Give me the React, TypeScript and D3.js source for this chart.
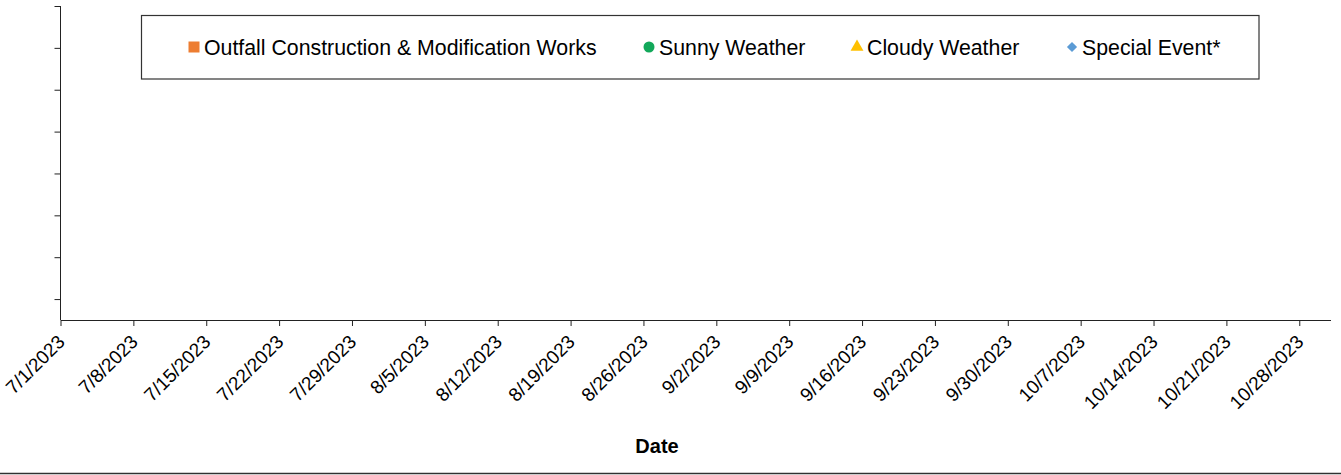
import React, { useEffect, useRef } from 'react';
import * as d3 from 'd3';

// Legend series (chart has no plotted points in this period)
const seriesNames = ['Outfall Construction & Modification Works', 'Sunny Weather', 'Cloudy Weather', 'Special Event*'];
const seriesColors = ['#ED7D31', '#12A85A', '#FFC000', '#5B9BD5'];
const seriesShapes = ['square', 'circle', 'triangle', 'diamond'];

// Observations per series: { date, value }
const outfallPoints: { date: string; value: number }[] = [];
const sunnyPoints: { date: string; value: number }[] = [];
const cloudyPoints: { date: string; value: number }[] = [];
const specialPoints: { date: string; value: number }[] = [];

const xStart = '2023-07-01';
const xEnd = '2023-10-31';
const yTicks = [0, 1, 2, 3, 4, 5, 6, 7];
const yMin = -0.5;
const yMax = 7;
const xTitle = 'Date';

const width = 1341;
const height = 475;
const FONT = '"Liberation Sans", Arial, sans-serif';

const symbolTypes: Record<string, d3.SymbolType> = {
  square: d3.symbolSquare,
  circle: d3.symbolCircle,
  triangle: d3.symbolTriangle,
  diamond: d3.symbolSquare,
};
const symbolSizes: Record<string, number> = { square: 121, circle: 95, triangle: 72, diamond: 52 };
const symbolRotate: Record<string, number> = { square: 0, circle: 0, triangle: 0, diamond: 45 };

export default function App() {
  const ref = useRef<SVGSVGElement>(null);

  useEffect(() => {
    const svg = d3.select(ref.current);
    svg.selectAll('*').remove();

    const parse = d3.utcParse('%Y-%m-%d');
    const x = d3.scaleUtc()
      .domain([parse(xStart)!, parse(xEnd)!])
      .range([60.5, 1330.5]);
    const y = d3.scaleLinear().domain([yMin, yMax]).range([320, 6]);

    // Bottom axis - weekly ticks (7/1/2023 is a Saturday)
    const xTicks = d3.utcSaturday.range(parse(xStart)!, parse(xEnd)!);
    const gx = svg.append('g')
      .attr('transform', `translate(0, 320)`)
      .call(
        d3.axisBottom(x)
          .tickValues(xTicks)
          .tickSize(6)
          .tickSizeOuter(0)
          .tickFormat(d => d3.utcFormat('%-m/%-d/%Y')(d as Date))
      );
    gx.select('.domain').attr('stroke', '#222');
    gx.selectAll('.tick line').attr('stroke', '#222');
    gx.selectAll('.tick text')
      .attr('y', 0)
      .attr('dy', 0)
      .attr('transform', 'translate(5, 23) rotate(-45)')
      .attr('text-anchor', 'end')
      .attr('font-family', FONT)
      .attr('font-size', 19)
      .attr('fill', '#000');

    // Left axis - no labels
    const gy = svg.append('g')
      .attr('transform', `translate(60.5, 0)`)
      .call(d3.axisLeft(y).tickValues(yTicks).tickSize(6).tickSizeOuter(0).tickFormat(() => ''));
    gy.select('.domain').attr('stroke', '#222').attr('d', `M0,${y(yMax)}V${y(yMin)}`);
    gy.selectAll('.tick line').attr('stroke', '#222');

    // Points (none in this range)
    const all = [outfallPoints, sunnyPoints, cloudyPoints, specialPoints];
    all.forEach((pts, i) => {
      const shape = seriesShapes[i];
      svg.append('g').selectAll('path').data(pts).enter().append('path')
        .attr('transform', d => `translate(${x(parse(d.date)!)}, ${y(d.value)}) rotate(${symbolRotate[shape]})`)
        .attr('d', d3.symbol().type(symbolTypes[shape]).size(symbolSizes[shape])())
        .attr('fill', seriesColors[i]);
    });

    // X axis title
    svg.append('text')
      .attr('x', 657)
      .attr('y', 453)
      .attr('text-anchor', 'middle')
      .attr('font-family', FONT)
      .attr('font-size', 20)
      .attr('font-weight', 'bold')
      .text(xTitle);

    // Legend
    const legend = svg.append('g');
    legend.append('rect')
      .attr('x', 141.5).attr('y', 15.5)
      .attr('width', 1117.5).attr('height', 63.5)
      .attr('fill', '#fff').attr('stroke', '#333').attr('stroke-width', 1.2);
    const legendX = [194, 649, 857, 1072];
    seriesNames.forEach((name, i) => {
      const shape = seriesShapes[i];
      const g = legend.append('g').attr('transform', `translate(${legendX[i]}, 47)`);
      g.append('path')
        .attr('transform', `rotate(${symbolRotate[shape]})`)
        .attr('d', d3.symbol().type(symbolTypes[shape]).size(symbolSizes[shape])())
        .attr('fill', seriesColors[i]);
      g.append('text')
        .attr('x', 10)
        .attr('y', 8)
        .attr('font-family', FONT)
        .attr('font-size', 21.3)
        .attr('fill', '#000')
        .text(name);
    });

    // bottom border
    svg.append('line')
      .attr('x1', 0).attr('x2', width)
      .attr('y1', 473.5).attr('y2', 473.5)
      .attr('stroke', '#303030').attr('stroke-width', 1.6);
  }, []);

  return (
    <svg
      ref={ref}
      width={width}
      height={height}
      style={{ position: 'absolute', left: 0, top: 0, background: '#fff' }}
    />
  );
}
